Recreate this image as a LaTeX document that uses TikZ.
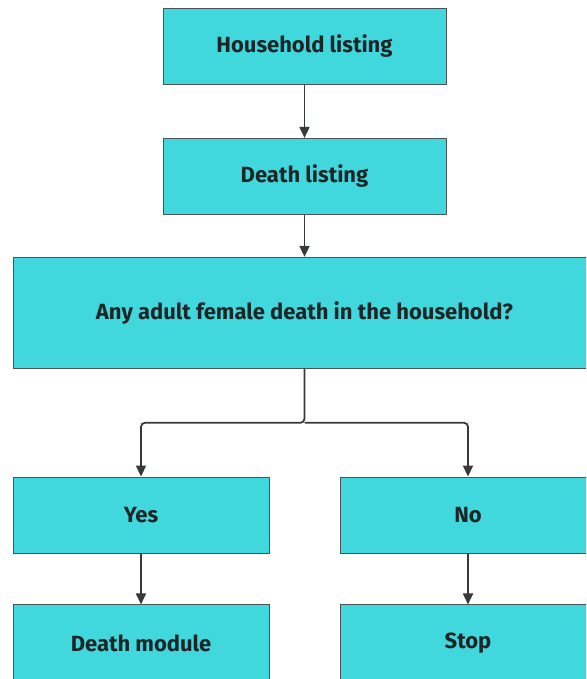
\documentclass[tikz,border=0pt]{standalone}
\usepackage{fontspec}
\setmainfont{Fira Sans}
\usetikzlibrary{arrows.meta, positioning, calc}
\definecolor{boxfill}{HTML}{40D8DD}
\definecolor{boxline}{HTML}{4A5456}
\definecolor{lineink}{HTML}{363A3B}
\definecolor{textink}{HTML}{1E2526}
\tikzset{
  qbox/.style={draw=boxline, fill=boxfill, align=center, inner sep=0pt,
    minimum height=76pt, minimum width=283pt, font=\fontsize{22}{26}\selectfont\bfseries, text=textink, line width=0.9pt},
  flow/.style={-{Triangle[length=11pt, width=10pt]}, draw=lineink, line width=1.8pt, rounded corners=4pt}
}
\begin{document}
\begin{tikzpicture}[x=1pt, y=1pt]
\clip (0,0) rectangle (586,-679);
\useasboundingbox (0,0) rectangle (586,-679);
\fill[white] (0,0) rectangle (586,-679);
\node[qbox] (hh) at (304.5,-46.5) {Household listing};
\node[qbox, below=53pt of hh] (dl) {Death listing};
\node[qbox, minimum width=583pt, minimum height=111pt, below=42pt of dl] (q) {Any adult female death in the household?};
\node[qbox, minimum width=256pt] (yes) at (141,-515) {Yes};
\node[qbox, minimum width=256pt] (no) at (468,-515) {No};
\node[qbox, minimum width=256pt, below=51pt of yes] (dm) {Death module};
\node[qbox, minimum width=256pt, below=51pt of no] (stop) {Stop};
\coordinate (split) at ($(q.south)+(0,-54)$);
\draw[flow] (hh)--(dl); \draw[flow] (dl)--(q);
\draw[flow] (q.south)--(split)-|(yes.north); \draw[flow] (split)-|(no.north);
\draw[flow] (yes)--(dm); \draw[flow] (no)--(stop);
\end{tikzpicture}
\end{document}
